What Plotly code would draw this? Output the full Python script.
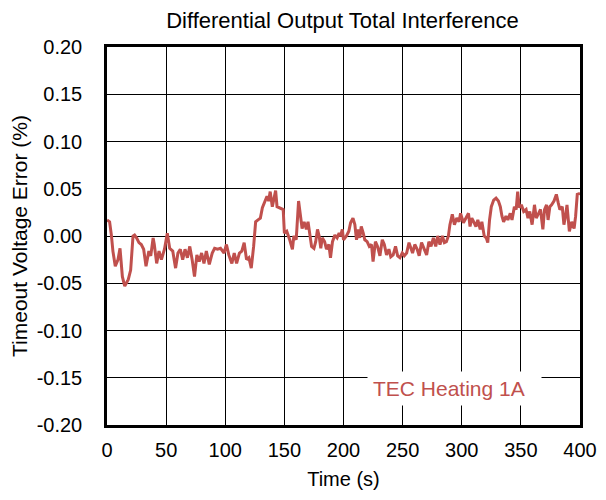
import plotly.graph_objects as go

title_text = "Differential Output Total Interference"
x_title = "Time (s)"
y_title = "Timeout Voltage Error (%)"
series_name = "TEC Heating 1A"

x_ticks = [0, 50, 100, 150, 200, 250, 300, 350, 400]
y_ticks = [0.20, 0.15, 0.10, 0.05, 0.00, -0.05, -0.10, -0.15, -0.20]

time_s = [
    0, 2.2, 3.7, 5, 7, 9.3, 11, 13, 15, 18, 20, 22, 23.3, 25, 27, 29, 31, 33, 35.4, 37,
    39, 40, 42, 44, 46, 48.6, 51, 53, 55.6, 58, 60, 62, 64, 66, 68, 70, 72, 74, 76, 78,
    80, 82, 84, 86.5, 89, 91, 93.5, 96, 99, 101, 103, 105.6, 107.6, 109.6, 112, 114, 116, 118, 120,
    122, 124, 125.7, 127.7, 129.7, 131.4, 133.3, 135.3, 136.7, 138, 139.8, 141.2, 142.6, 143.8,
    146, 149, 150, 152, 154.5, 156.8, 158, 160, 162, 163.6, 165, 166.7, 168.6, 170, 171.5,
    173, 175, 176.5, 178, 179.4, 180.8, 182, 184, 185.6, 187.6, 189, 190.7, 192.7, 194.6,
    196.3, 197.5, 199, 200, 202.5, 204.5, 206, 208, 209.6, 211, 212.4, 213.8, 215, 216.7,
    218, 220, 221.8, 223.7, 225, 227, 228.8, 230.8, 232.8, 234.5, 236.4, 238.4, 240, 242,
    244, 245.8, 247.7, 249.7, 251.4, 253.4, 255.4,
    258.4, 260.3, 262.3, 264, 266, 268, 270.3, 272.2, 274, 276, 278, 279.6, 281.6, 283.6,
    285.3, 287, 288.7, 290, 292, 293.8, 295.8, 297.7, 299, 301.4, 303.7, 305.7, 307, 308.5,
    310.5, 312, 313.6, 315.6, 317, 319, 320.7, 322, 323.5, 325, 327, 329, 331, 332.6, 334,
    335.4, 337.4, 339, 341, 342.5, 344.5, 346, 347.3, 348.7, 350.4, 352.4, 354.4, 356, 357.5,
    359.5, 361.5, 363, 365, 366.6, 368.6, 370, 371.7, 373, 374.5, 376, 378, 380, 381.6, 383,
    385, 386.4, 388, 389, 391, 393, 395, 396.3, 397.7, 399, 400,
]

error_pct = [
    0.017, 0.015, 0.001, -0.016, -0.032, -0.025, -0.013, -0.043, -0.053, -0.046, -0.036, 0.000,
    0.001, -0.002, -0.007, -0.009, -0.014, -0.032, -0.016, -0.021,
    -0.002, -0.009, -0.029, -0.016, -0.025, -0.014, 0.003, -0.013, -0.016, -0.034, -0.018,
    -0.014, -0.025, -0.014, -0.023, -0.011, -0.025, -0.043, -0.020, -0.027,
    -0.018, -0.029, -0.016, -0.030, -0.018, -0.013, -0.014, -0.013, -0.018, -0.009, -0.020,
    -0.029, -0.018, -0.029, -0.018, -0.016, -0.007, -0.025, -0.023,
    -0.034, -0.011, 0.015, 0.017, 0.019, 0.030, 0.035, 0.042, 0.037, 0.047, 0.031, 0.038, 0.048, 0.031,
    0.030, 0.028, 0.003, 0.005, -0.004, -0.014, 0.000, -0.004, 0.037, 0.021, 0.008, 0.015, 0.007, 0.015, 0.000,
    -0.011, -0.013, -0.006, 0.007, 0.000, -0.013, -0.002, -0.006, -0.014, -0.009, -0.023, -0.006, 0.001, -0.002,
    0.003, 0.000, 0.007, -0.004, 0.000, 0.005, 0.014, 0.019, 0.012, -0.004, 0.007, -0.002, 0.010, 0.003,
    -0.004, -0.006, -0.011, -0.009, -0.027, -0.006, -0.011, -0.021, -0.004, -0.009, -0.020, -0.014, -0.022, -0.020,
    -0.011, -0.021, -0.023, -0.018, -0.021, -0.018, -0.007,
    -0.018, -0.009, -0.014, -0.021, -0.007, -0.014, -0.020, -0.006, -0.011, -0.002, -0.011, 0.000, -0.009, 0.000,
    -0.007, -0.006, 0.000, 0.012, 0.023, 0.012, 0.019, 0.015, 0.024, 0.014, 0.019, 0.024, 0.010, 0.019,
    0.014, 0.010, 0.017, 0.007, 0.015, 0.000, -0.002, -0.007, 0.017, 0.031, 0.038, 0.040, 0.037, 0.031, 0.021,
    0.015, 0.021, 0.017, 0.024, 0.017, 0.031, 0.028, 0.047, 0.030, 0.033, 0.026, 0.028, 0.019, 0.026,
    0.012, 0.033, 0.019, 0.024, 0.028, 0.007, 0.028, 0.033, 0.017, 0.031, 0.033, 0.037, 0.044, 0.035, 0.028,
    0.031, 0.012, 0.023, 0.033, 0.005, 0.015, 0.008, 0.021, 0.044, 0.045, 0.045,
]

line_color = "#C0504D"
font_family = "Liberation Sans, Arial, sans-serif"

fig = go.Figure()
fig.add_trace(go.Scatter(
    x=time_s, y=error_pct, mode="lines", name=series_name,
    line=dict(color=line_color, width=3), showlegend=False,
))

fig.add_annotation(
    x=293.5, y=-0.161, xref="x", yref="y", text=series_name + "&nbsp;&nbsp;", showarrow=False,
    font=dict(family=font_family, size=21, color=line_color),
    bgcolor="white", borderpad=5,
)

# page body has an 8px margin: figure origin sits at (8, 8)
fig.update_layout(
    width=590, height=484,
    margin=dict(l=99, r=18, t=39, b=67),
    paper_bgcolor="white", plot_bgcolor="white",
    font=dict(family=font_family, size=20, color="black"),
    title=dict(text=title_text, x=0.567, xanchor="center", y=0.975, yanchor="middle",
               font=dict(family=font_family, size=22, color="black")),
)

fig.update_xaxes(
    range=[0, 400], tickvals=x_ticks, ticktext=[str(v) for v in x_ticks],
    showgrid=True, gridcolor="black", gridwidth=1,
    showline=True, linecolor="black", linewidth=2.5, mirror=True,
    ticks="", ticklabelstandoff=5, zeroline=False, automargin=False,
    title=dict(text=x_title, standoff=13, font=dict(size=20)),
)
fig.update_yaxes(
    range=[-0.2, 0.2], tickvals=y_ticks, ticktext=[f"{v:.2f}" for v in y_ticks],
    showgrid=True, gridcolor="black", gridwidth=1,
    showline=True, linecolor="black", linewidth=2.5, mirror=True,
    ticks="", ticklabelstandoff=18, zeroline=False, automargin=False,
    title=dict(text=y_title, standoff=5, font=dict(size=21)),
)

fig.write_html("out.html")
